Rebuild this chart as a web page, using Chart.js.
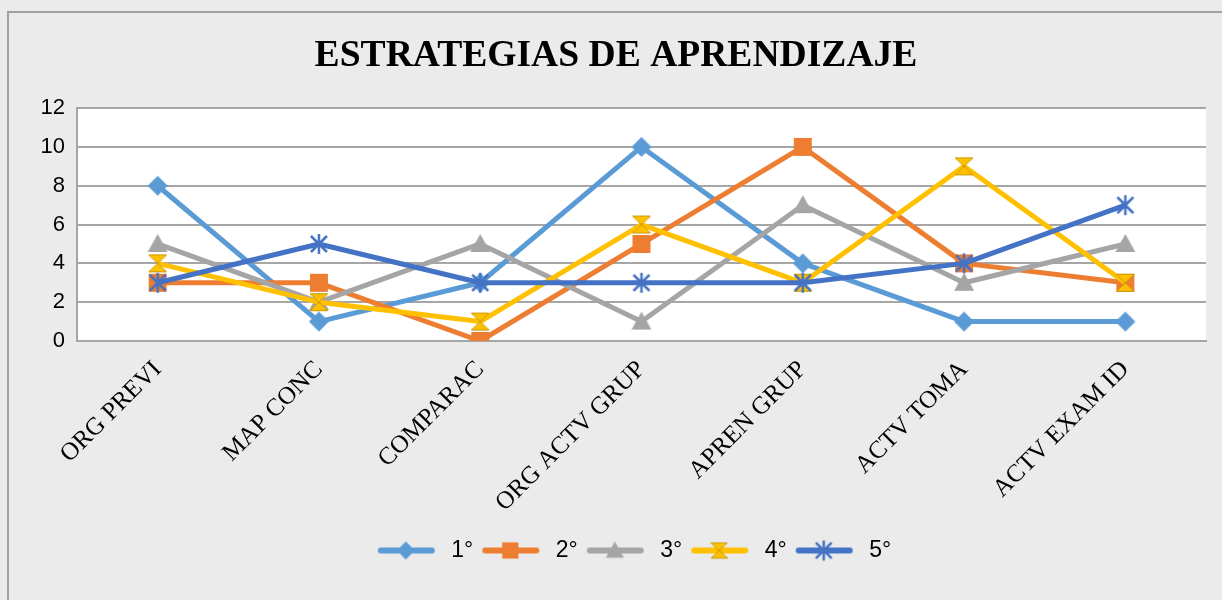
<!DOCTYPE html>
<html>
<head>
<meta charset="utf-8">
<script src="https://cdn.jsdelivr.net/npm/chart.js@4/dist/chart.umd.min.js"></script>
<style>
  html, body { margin: 0; padding: 0; background: #ebebeb; }
  #chart { display: block; }
</style>
</head>
<body>
<canvas id="chart" width="1222" height="600"></canvas>
<script>
const categories = ['ORG PREVI', 'MAP CONC', 'COMPARAC', 'ORG ACTV GRUP', 'APREN GRUP', 'ACTV TOMA', 'ACTV EXAM ID'];
const serie1 = [8, 1, 3, 10, 4, 1, 1];
const serie2 = [3, 3, 0, 5, 10, 4, 3];
const serie3 = [5, 2, 5, 1, 7, 3, 5];
const serie4 = [4, 2, 1, 6, 3, 9, 3];
const serie5 = [3, 5, 3, 3, 3, 4, 7];
const seriesNames = ['1°', '2°', '3°', '4°', '5°'];
const yMin = 0, yMax = 12, yStep = 2;

const colors = ['#5b9bd5', '#ed7d31', '#a5a5a5', '#ffc000', '#4472c4'];
const markers = ['diamond', 'square', 'triangle', 'hourglass', 'star'];

// draw one marker shape on a 2d context
function drawMarker(ctx, kind, x, y, r, color) {
  ctx.save();
  ctx.fillStyle = color;
  ctx.strokeStyle = color;
  ctx.lineWidth = 1;
  ctx.beginPath();
  if (kind === 'diamond') {
    ctx.moveTo(x, y - r); ctx.lineTo(x + r, y); ctx.lineTo(x, y + r); ctx.lineTo(x - r, y);
    ctx.closePath(); ctx.fill();
  } else if (kind === 'square') {
    ctx.rect(x - r * 0.9, y - r * 0.9, r * 1.8, r * 1.8); ctx.fill();
  } else if (kind === 'triangle') {
    ctx.moveTo(x, y - r); ctx.lineTo(x + r, y + r * 0.8); ctx.lineTo(x - r, y + r * 0.8);
    ctx.closePath(); ctx.fill();
  } else if (kind === 'hourglass') {
    ctx.moveTo(x - r * 0.9, y - r * 0.85); ctx.lineTo(x + r * 0.9, y - r * 0.85);
    ctx.lineTo(x - r * 0.9, y + r * 0.85); ctx.lineTo(x + r * 0.9, y + r * 0.85);
    ctx.closePath(); ctx.fill();
    ctx.strokeStyle = '#c99a00'; ctx.stroke();
  } else if (kind === 'star') {
    ctx.lineWidth = 2.5;
    const d = r * 0.8;
    ctx.moveTo(x - d, y - d); ctx.lineTo(x + d, y + d);
    ctx.moveTo(x + d, y - d); ctx.lineTo(x - d, y + d);
    ctx.moveTo(x, y - r); ctx.lineTo(x, y + r);
    ctx.stroke();
  }
  ctx.restore();
}

function markerImage(kind, color, r) {
  const c = document.createElement('canvas');
  c.width = c.height = Math.ceil(r * 2 + 4);
  drawMarker(c.getContext('2d'), kind, c.width / 2, c.height / 2, r, color);
  return c;
}

// legend swatch: short line with the marker in the middle
function legendImage(kind, color) {
  const c = document.createElement('canvas');
  c.width = 63; c.height = 22;
  const ctx = c.getContext('2d');
  ctx.strokeStyle = color;
  ctx.lineWidth = 6;
  ctx.lineCap = 'round';
  ctx.beginPath(); ctx.moveTo(4, 11); ctx.lineTo(55, 11); ctx.stroke();
  drawMarker(ctx, kind, 29, 11, 9, color);
  return c;
}

const seriesData = [serie1, serie2, serie3, serie4, serie5];

const datasets = seriesData.map((values, i) => ({
  label: seriesNames[i],
  data: values,
  borderColor: colors[i],
  backgroundColor: colors[i],
  borderWidth: 5,
  borderJoinStyle: 'round',
  tension: 0,
  pointStyle: markerImage(markers[i], colors[i], 10),
  pointRadius: 10,
  pointHoverRadius: 10,
  legendIcon: legendImage(markers[i], colors[i]),
  order: seriesData.length - i
}));

const background = {
  id: 'background',
  afterLayout(chart) {
    // title and legend sit a little right of the plot centre in the original
    chart.titleBlock.left += 9; chart.titleBlock.right += 9;
    chart.legend.left += 27; chart.legend.right += 27;
  },
  beforeDraw(chart) {
    const { ctx, chartArea } = chart;
    ctx.save();
    ctx.fillStyle = '#ebebeb';
    ctx.fillRect(0, 0, chart.width, chart.height);
    ctx.strokeStyle = '#a0a0a0';
    ctx.lineWidth = 2;
    ctx.beginPath();
    ctx.moveTo(8, chart.height); ctx.lineTo(8, 12); ctx.lineTo(chart.width, 12);
    ctx.stroke();
    ctx.fillStyle = '#ffffff';
    ctx.fillRect(chartArea.left, chartArea.top, chartArea.right - chartArea.left, chartArea.bottom - chartArea.top);
    ctx.restore();
  }
};

new Chart(document.getElementById('chart').getContext('2d'), {
  type: 'line',
  data: { labels: categories, datasets: datasets },
  plugins: [background],
  options: {
    responsive: false,
    animation: false,
    layout: { padding: { left: 8, right: 16, top: 12, bottom: 28 } },
    plugins: {
      title: {
        display: true,
        text: 'ESTRATEGIAS DE APRENDIZAJE',
        color: '#000000',
        font: { family: 'Liberation Serif', size: 37.6, weight: 'bold' },
        padding: { top: 22, bottom: 29 }
      },
      legend: {
        position: 'bottom',
        labels: {
          usePointStyle: true,
          pointStyleWidth: 63,
          padding: 8,
          color: '#000000',
          font: { family: 'Liberation Sans', size: 23 },
          generateLabels(chart) {
            return chart.data.datasets.map((ds, i) => ({
              text: ds.label,
              pointStyle: ds.legendIcon,
              fillStyle: ds.borderColor,
              strokeStyle: ds.borderColor,
              lineWidth: 0,
              hidden: false,
              datasetIndex: i
            }));
          }
        }
      },
      tooltip: { enabled: false }
    },
    scales: {
      x: {
        offset: true,
        grid: { display: false },
        border: { display: true, color: '#a6a6a6', width: 2 },
        ticks: {
          color: '#000000',
          minRotation: 45,
          maxRotation: 45,
          padding: 6,
          font: { family: 'Liberation Serif', size: 25 }
        },
        afterFit(scale) { scale.height = 190; }
      },
      y: {
        min: yMin,
        max: yMax,
        grid: { color: '#a6a6a6', lineWidth: 2, drawTicks: false },
        border: { display: true, color: '#a6a6a6', width: 2 },
        ticks: {
          stepSize: yStep,
          color: '#000000',
          padding: 12,
          font: { family: 'Liberation Sans', size: 22 }
        },
        afterFit(scale) { scale.width = 69; }
      }
    }
  }
});
</script>
</body>
</html>
